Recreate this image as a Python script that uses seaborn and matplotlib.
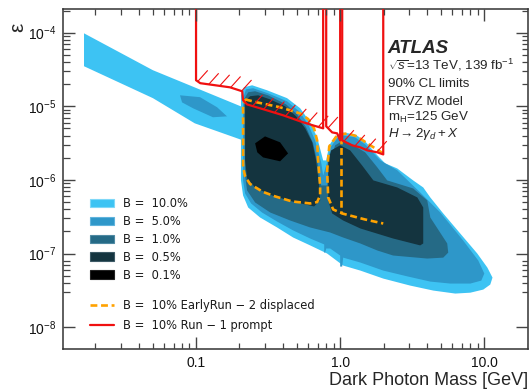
import numpy as np
import matplotlib
matplotlib.use("Agg")
import matplotlib.pyplot as plt
import seaborn as sns
from matplotlib.patches import Patch
from matplotlib.lines import Line2D
from matplotlib.collections import LineCollection
from matplotlib.ticker import FixedLocator, FixedFormatter, LogLocator, NullFormatter

# ---- data (mass in GeV, epsilon) ----
EPS_TOP = 2.1e-4

# B = 10% band at low mass
band_m = [0.0167, 0.0502, 0.212, 0.212, 0.098, 0.0502, 0.0167]
band_e = [9.8e-5, 3.09e-5, 9.7e-6, 3.44e-6, 5.87e-6, 1.29e-5, 3.5e-5]

# B = 5% island inside the band
isle_m = [0.0774, 0.1066, 0.140, 0.164, 0.131, 0.0953, 0.080]
isle_e = [1.41e-5, 1.33e-5, 9.7e-6, 7.3e-6, 7.1e-6, 9.4e-6, 1.13e-5]

# B = 10% main region
b10_m = [0.205, 0.215, 0.245, 0.311, 0.428, 0.528, 0.619, 0.692, 0.762, 0.80, 0.84, 0.923,
         1.033, 1.27, 1.49, 1.81, 2.05, 2.49, 3.21, 3.77, 4.22, 5.19, 6.81, 8.94, 10.5, 11.4,
         11.0, 9.84, 8.0, 6.29, 4.43, 3.06, 1.99, 1.38, 1.049, 0.812, 0.619, 0.472, 0.365,
         0.278, 0.23, 0.212, 0.205]
b10_e = [1.41e-5, 1.81e-5, 1.93e-5, 1.65e-5, 1.29e-5, 9.4e-6, 6.05e-6, 3.79e-6, 1.84e-6,
         1.84e-6, 2.95e-6, 3.9e-6, 4.42e-6, 4.16e-6, 3.34e-6, 2.16e-6, 1.68e-6, 1.43e-6,
         9.84e-7, 7.9e-7, 5.78e-7, 3.5e-7, 1.87e-7, 1.0e-7, 6.45e-8, 4.71e-8, 3.79e-8, 3.24e-8,
         2.94e-8, 2.86e-8, 3.14e-8, 3.67e-8, 4.57e-8, 5.87e-8, 6.87e-8, 1.0e-7, 1.29e-7,
         1.65e-7, 2.26e-7, 3.09e-7, 4.22e-7, 6.15e-7, 9.84e-7]

# B = 5%
b5_m = [0.212, 0.222, 0.249, 0.316, 0.428, 0.519, 0.600, 0.670, 0.738, 0.762, 0.812, 0.866,
        0.953, 1.049, 1.27, 1.49, 1.90, 2.49, 3.59, 4.95, 7.14, 9.08, 10.0, 9.53, 8.0, 5.81,
        4.22, 2.97, 1.99, 1.38, 1.049, 1.033, 1.0, 1.0, 0.853, 0.80, 0.787, 0.775, 0.775,
        0.619, 0.472, 0.365, 0.287, 0.241, 0.219, 0.212]
b5_e = [1.29e-5, 1.70e-5, 1.76e-5, 1.50e-5, 1.17e-5, 8.55e-6, 5.69e-6, 3.44e-6, 1.73e-6,
        1.15e-6, 1.73e-6, 2.86e-6, 3.67e-6, 4.03e-6, 3.79e-6, 3.04e-6, 1.84e-6, 1.35e-6,
        6.76e-7, 3.61e-7, 1.5e-7, 8.04e-8, 5.35e-8, 4.29e-8, 3.91e-8, 3.91e-8, 4.16e-8,
        4.86e-8, 5.87e-8, 7.55e-8, 8.8e-8, 6.65e-8, 6.65e-8, 9.4e-8, 1.17e-7, 1.17e-7,
        1.03e-7, 1.03e-7, 1.33e-7, 1.6e-7, 2.06e-7, 2.72e-7, 3.61e-7, 4.79e-7, 6.55e-7,
        9.84e-7]

# B = 1%
b1_m = [0.215, 0.23, 0.257, 0.316, 0.422, 0.502, 0.581, 0.649, 0.703, 0.738, 0.812, 0.853,
        0.923, 1.049, 1.173, 1.49, 1.81, 2.12, 3.21, 4.02, 4.22, 5.53, 5.62, 5.19, 4.02, 2.33,
        1.81, 1.38, 1.049, 0.853, 0.619, 0.45, 0.327, 0.257, 0.226, 0.219]
b1_e = [1.24e-5, 1.55e-5, 1.6e-5, 1.41e-5, 1.06e-5, 7.78e-6, 5.18e-6, 3.14e-6, 1.57e-6,
        8.41e-7, 8.41e-7, 1.84e-6, 2.95e-6, 3.44e-6, 3.14e-6, 2.37e-6, 1.48e-6, 9.84e-7,
        7.66e-7, 5.26e-7, 3.09e-7, 1.37e-7, 1.03e-7, 8.8e-8, 8.55e-8, 9.4e-8, 1.1e-7,
        1.37e-7, 1.65e-7, 1.93e-7, 2.26e-7, 2.81e-7, 3.61e-7, 4.94e-7, 7.2e-7, 1.15e-6]

# B = 0.5% (two lobes)
b05a_m = [0.219, 0.237, 0.270, 0.327, 0.415, 0.495, 0.572, 0.640, 0.681, 0.715, 0.726,
          0.659, 0.464, 0.337, 0.257, 0.226, 0.219]
b05a_e = [1.17e-5, 1.37e-5, 1.41e-5, 1.24e-5, 1.0e-5, 7.3e-6, 5.02e-6, 3.24e-6, 1.84e-6,
          8.41e-7, 5.26e-7, 4.36e-7, 5.1e-7, 6.15e-7, 7.9e-7, 1.05e-6, 1.84e-6]
b05b_m = [0.826, 0.866, 1.0, 1.173, 1.42, 1.70, 2.49, 3.43, 3.77, 3.77, 3.59, 2.33, 1.38,
          1.049, 0.88, 0.826]
b05b_e = [1.84e-6, 2.52e-6, 2.95e-6, 2.52e-6, 1.57e-6, 9.84e-7, 7.9e-7, 5.78e-7, 4.22e-7,
          1.37e-7, 1.29e-7, 1.6e-7, 2.19e-7, 2.81e-7, 3.5e-7, 5.26e-7]

# B = 0.1%
b01_m = [0.257, 0.301, 0.383, 0.435, 0.383, 0.292, 0.266]
b01_e = [3.14e-6, 3.9e-6, 3.24e-6, 2.29e-6, 1.79e-6, 2.02e-6, 2.37e-6]

# B = 10% EarlyRun-2 displaced
disp1_m = [0.219, 0.266, 0.383, 0.528, 0.600, 0.659, 0.692, 0.703, 0.726, 0.726, 0.692,
           0.619, 0.464, 0.354, 0.290, 0.237, 0.219, 0.212, 0.212, 0.219]
disp1_e = [1.24e-5, 1.13e-5, 9.7e-6, 8.0e-6, 6.7e-6, 5.0e-6, 3.44e-6, 1.84e-6, 8.41e-7,
           6.15e-7, 5.0e-7, 4.79e-7, 5.1e-7, 5.97e-7, 6.9e-7, 8.8e-7, 1.12e-6, 1.48e-6,
           1.03e-5, 1.24e-5]
disp2_m = [1.99, 1.54, 1.31, 1.119, 0.953, 0.84, 0.812, 0.826, 0.894, 1.033, 1.49, 1.99]
disp2_e = [2.29e-6, 3.14e-6, 3.9e-6, 4.29e-6, 4.03e-6, 2.86e-6, 1.35e-6, 5.78e-7, 3.97e-7,
           3.5e-7, 2.9e-7, 2.56e-7]
disp3_m = [1.016, 1.016]
disp3_e = [3.79e-6, 3.5e-7]

# B = 10% Run-1 prompt (three pieces, excluded above)
prompt1_m = [0.1, 0.1, 0.107, 0.136, 0.172, 0.209, 0.212, 0.226, 0.311, 0.402, 0.528,
             0.649, 0.762, 0.762]
prompt1_e = [EPS_TOP, 2.26e-5, 2.06e-5, 1.93e-5, 1.81e-5, 1.6e-5, 1.21e-5, 1.06e-5, 8.8e-6,
             7.55e-6, 6.25e-6, 5.5e-6, 5.02e-6, EPS_TOP]
prompt2_m = [0.80, 0.80, 0.826, 0.88, 0.953, 1.0, 1.0]
prompt2_e = [EPS_TOP, 5.34e-6, 5.02e-6, 4.42e-6, 4.29e-6, 3.44e-6, EPS_TOP]
prompt3_m = [1.033, 1.033, 1.21, 1.38, 1.54, 1.81, 1.99, 1.99]
prompt3_e = [EPS_TOP, 3.44e-6, 2.95e-6, 2.77e-6, 2.52e-6, 2.37e-6, 2.22e-6, EPS_TOP]

levels = ["10.0", "5.0", "1.0", "0.5", "0.1"]
level_colors = sns.color_palette(["#3dc3f3", "#2e97c9", "#256a86", "#14343f", "#000000"])
level_edges = sns.color_palette(["#7fd8f8", "#5fb3dc", "#4f8aa3", "#3d5a66", "#222222"])
ORANGE = "#ffa200"
RED = "#f01010"
TICK_COLOR = "#444444"

# ---- style ----
sns.set_theme(style="ticks")
plt.rcParams["font.family"] = ["Liberation Sans", "DejaVu Sans"]
plt.rcParams["mathtext.fontset"] = "custom"
plt.rcParams["mathtext.rm"] = "Liberation Sans"
plt.rcParams["mathtext.it"] = "Liberation Sans:italic"
plt.rcParams["mathtext.bf"] = "Liberation Sans:bold"
plt.rcParams.update({
    "xtick.labelcolor": "#111111", "ytick.labelcolor": "#111111",
    "xtick.labelsize": 10, "ytick.labelsize": 10,
    "axes.linewidth": 1.1, "axes.edgecolor": "#333333",
})

fig = plt.figure(figsize=(5.29, 3.89), dpi=100)
ax = fig.add_axes([0.1197, 0.102, 0.879, 0.875])
ax.set_xscale("log")
ax.set_yscale("log")
ax.set_xlim(0.012, 20.2)
ax.set_ylim(5e-9, EPS_TOP)
ax.xaxis.set_major_locator(FixedLocator([0.1, 1.0, 10.0]))
ax.xaxis.set_major_formatter(FixedFormatter(["0.1", "1.0", "10.0"]))
ax.xaxis.set_minor_locator(LogLocator(base=10, subs=np.arange(2, 10), numticks=100))
ax.xaxis.set_minor_formatter(NullFormatter())
ax.yaxis.set_major_locator(LogLocator(base=10, numticks=100))
ax.yaxis.set_minor_locator(LogLocator(base=10, subs=np.arange(2, 10), numticks=100))
ax.yaxis.set_minor_formatter(NullFormatter())
ax.set_autoscale_on(False)
# tick marks are drawn below as plain line segments, labels stay on the axis
ax.tick_params(which="both", length=0, pad=5)

# filled regions
ax.fill(band_m, band_e, color=level_colors[0], lw=0, zorder=1)
ax.fill(b10_m, b10_e, color=level_colors[0], lw=0, zorder=1)
ax.fill(isle_m, isle_e, color=level_colors[1], lw=0, zorder=2)
ax.fill(b5_m, b5_e, color=level_colors[1], lw=0, zorder=2)
ax.fill(b1_m, b1_e, color=level_colors[2], lw=0, zorder=3)
ax.fill(b05a_m, b05a_e, color=level_colors[3], lw=0, zorder=4)
ax.fill(b05b_m, b05b_e, color=level_colors[3], lw=0, zorder=4)
ax.fill(b01_m, b01_e, color=level_colors[4], lw=0, zorder=5)

# displaced limit
for m, e in [(disp1_m, disp1_e), (disp2_m, disp2_e), (disp3_m, disp3_e)]:
    ax.plot(m, e, color=ORANGE, lw=1.9, linestyle=(0, (2.6, 1.4)), zorder=6)


def hatch(ax, m, e, step=0.076, dx=0.069, dy=0.15):
    # short "/" strokes on the excluded side of a limit line
    lm, le = np.log10(m), np.log10(e)
    starts = np.arange(lm[0] + 0.012, lm[-1] - 0.01, step)
    ys = np.interp(starts, lm, le)
    for x0, y0 in zip(starts, ys):
        ax.plot(10 ** np.array([x0, x0 + dx]), 10 ** np.array([y0, y0 + dy]),
                color=RED, lw=0.8, zorder=7, solid_capstyle="butt")


# prompt limit
for m, e in [(prompt1_m, prompt1_e), (prompt2_m, prompt2_e), (prompt3_m, prompt3_e)]:
    ax.plot(m, e, color=RED, lw=1.6, zorder=8)
    hatch(ax, m[1:-1], e[1:-1])


def inner_ticks(ax):
    # inward ticks on all four sides, taken from the axis locators
    xlo, xhi = ax.get_xlim()
    ylo, yhi = ax.get_ylim()
    xmaj = [v for v in ax.xaxis.get_major_locator().tick_values(xlo, xhi) if xlo <= v <= xhi]
    xmin = [v for v in ax.xaxis.get_minor_locator().tick_values(xlo, xhi)
            if xlo <= v <= xhi and not np.isclose(v, xmaj).any()]
    ymaj = [v for v in ax.yaxis.get_major_locator().tick_values(ylo, yhi) if ylo <= v <= yhi]
    ymin = [v for v in ax.yaxis.get_minor_locator().tick_values(ylo, yhi)
            if ylo <= v <= yhi and not np.isclose(v, ymaj).any()]
    for vals, ln, lw in [(xmaj, 0.035, 1.0), (xmin, 0.019, 0.9)]:
        segs = [[(v, 0), (v, ln)] for v in vals] + [[(v, 1), (v, 1 - ln)] for v in vals]
        ax.add_collection(LineCollection(segs, colors=TICK_COLOR, linewidths=lw,
                                         transform=ax.get_xaxis_transform(), zorder=9),
                          autolim=False)
    for vals, ln, lw in [(ymaj, 0.026, 1.0), (ymin, 0.014, 0.9)]:
        segs = [[(0, v), (ln, v)] for v in vals] + [[(1, v), (1 - ln, v)] for v in vals]
        ax.add_collection(LineCollection(segs, colors=TICK_COLOR, linewidths=lw,
                                         transform=ax.get_yaxis_transform(), zorder=9),
                          autolim=False)


inner_ticks(ax)

ax.set_xlabel("Dark Photon Mass [GeV]", fontsize=13, loc="right", labelpad=1)
ax.set_ylabel("ε", fontsize=15, rotation=90)
ax.yaxis.label.set(ha="center", va="center")
ax.yaxis.set_label_coords(-0.099, 0.947)

# legends
patch_handles = [Patch(facecolor=c, edgecolor=ec, lw=0.8) for c, ec in zip(level_colors, level_edges)]
leg1 = ax.legend(patch_handles, [f"B =  {b}%" for b in levels], loc="upper left",
                 bbox_to_anchor=(0.057, 0.447), frameon=False, borderaxespad=0, borderpad=0,
                 handlelength=2.1, handleheight=0.75, handletextpad=0.75, labelspacing=0.42,
                 prop={"family": "DejaVu Sans", "size": 8.3}, labelcolor="#1a1a1a")
ax.add_artist(leg1)
line_handles = [Line2D([], [], color=ORANGE, lw=1.9, linestyle=(0, (2.6, 1.4))),
                Line2D([], [], color=RED, lw=1.6)]
ax.legend(line_handles, ["B =  10% EarlyRun − 2 displaced", "B =  10% Run − 1 prompt"],
          loc="upper left", bbox_to_anchor=(0.057, 0.148), frameon=False, borderaxespad=0,
          borderpad=0, handlelength=2.1, handletextpad=0.75, labelspacing=0.62,
          prop={"family": "DejaVu Sans", "size": 8.3}, labelcolor="#1a1a1a")

# labels block
tx = 0.698
ax.text(tx, 0.871, "ATLAS", transform=ax.transAxes, fontsize=13.5, fontweight="bold",
        style="italic", va="baseline", zorder=10)
info = [r"$\sqrt{s}$=13 TeV, 139 fb$^{-1}$", "90% CL limits", "FRVZ Model",
        r"m$_\mathrm{H}$=125 GeV", r"$H \rightarrow 2\gamma_d + X$"]
for txt, y in zip(info, [0.821, 0.771, 0.719, 0.671, 0.624]):
    ax.text(tx, y, txt, transform=ax.transAxes, fontsize=9.6, va="baseline", zorder=10)

fig.savefig("out.png", dpi=100)
